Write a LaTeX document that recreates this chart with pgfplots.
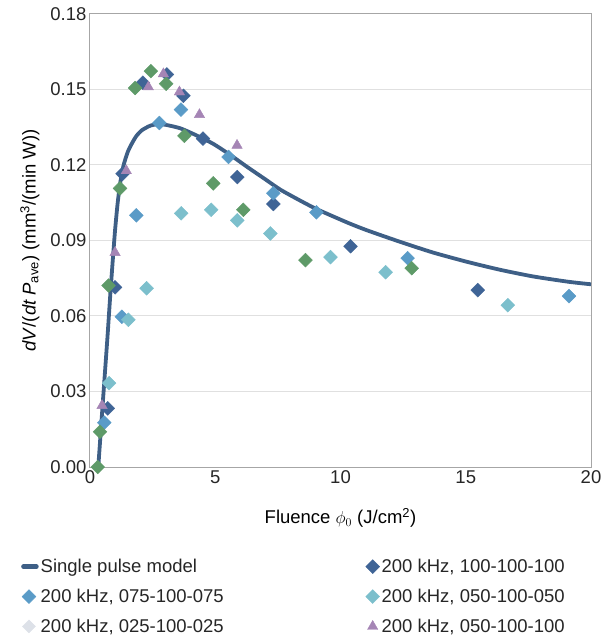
\documentclass[border=0pt]{standalone}
\usepackage{fontspec}
\setmainfont{Liberation Sans}
\usepackage{pgfplots}
\pgfplotsset{compat=1.18}
\definecolor{cmodel}{HTML}{3E5F86}
\definecolor{cdark}{HTML}{3F6496}
\definecolor{cmed}{HTML}{5A9BC7}
\definecolor{clight}{HTML}{7CBFCC}
\definecolor{cgreen}{HTML}{5E9A68}
\definecolor{cpink}{HTML}{A585B5}
\definecolor{cpale}{HTML}{DDE1E8}
\begin{document}
\begin{tikzpicture}[font=\fontsize{18.5}{22}\selectfont]
\useasboundingbox (-90pt,-177pt) rectangle (511pt,467pt);
\begin{axis}[
  scale only axis, width=501pt, height=453pt,
  at={(0,0)}, anchor=south west,
  xmin=0, xmax=20, ymin=0, ymax=0.18,
  xtick={0,5,10,15,20},
  ytick={0,0.03,0.06,0.09,0.12,0.15,0.18},
  yticklabel style={/pgf/number format/.cd, fixed, fixed zerofill, precision=2},
  /pgf/number format/assume math mode=true,
  tick style={draw=none},
  ticklabel style={text=black!85},
  axis line style={black!35, line width=1pt},
  ymajorgrids, grid style={black!12, line width=1pt},
  xlabel={Fluence $\phi_0$ (J/cm\textsuperscript{2})},
  ylabel={\textit{dV}/(\textit{dt P}\textsubscript{ave}) (mm\textsuperscript{3}/(min W))},
  xlabel style={at={([yshift=-51pt]rel axis cs:0.5,0)}, anchor=center},
  ylabel style={at={([xshift=-60pt]rel axis cs:0,0.5)}, anchor=center},
  legend columns=2,
  legend cell align=left,
  legend style={at={(rel axis cs:0,0)}, anchor=north west, xshift=-72pt, yshift=-88pt,
    draw=none, fill=none, row sep=11pt, text=black!85,
    /tikz/every even column/.append style={column sep=140pt}},
]
\addplot[cmodel, line width=3.8pt, smooth, tension=0.4,
  legend image code/.code={\draw[cmodel, line width=4.5pt, line cap=round] (3pt,0pt) -- (16pt,0pt);}]
coordinates {
(0.33,0) (0.5,0.024) (0.6,0.038) (0.7,0.052) (0.8,0.067) (0.9,0.081) (1.0,0.094)
(1.1,0.1045) (1.2,0.1125) (1.33,0.1195) (1.5,0.125) (1.67,0.1285) (1.85,0.1315)
(2.07,0.1338) (2.4,0.1356) (2.7,0.1362) (3.0,0.1360) (3.6,0.1346) (4.2,0.1320)
(4.92,0.1284) (5.6,0.1240) (6.28,0.1192) (7.0,0.1143) (7.6,0.1102) (8.4,0.1058)
(9.0,0.1027) (9.7,0.0996) (10.4,0.0966) (11.1,0.0939) (12.4,0.0894) (13.7,0.0852)
(15.1,0.0814) (16.4,0.0783) (17.7,0.0757) (19.1,0.0736) (20,0.0726)
};
\addlegendentry{Single pulse model}
\addplot[only marks, mark=square*, mark size=4.9pt, mark options={rotate=45, fill=cdark, draw=cdark}]
coordinates {
(0.71,0.0233) (1.0,0.0714) (1.3,0.1165) (2.11,0.1527) (3.07,0.156) (3.73,0.1475)
(4.51,0.1305) (5.88,0.1152) (7.32,0.1045) (10.4,0.0877) (15.48,0.0703)
};
\addlegendentry{200 kHz, 100-100-100}
\addplot[only marks, mark=square*, mark size=4.9pt, mark options={rotate=45, fill=cmed, draw=cmed}]
coordinates {
(0.57,0.0176) (1.27,0.0597) (1.85,0.100) (2.77,0.1367) (3.63,0.142) (5.53,0.1232)
(7.32,0.1088) (9.04,0.1012) (12.68,0.083) (19.12,0.0679)
};
\addlegendentry{200 kHz, 075-100-075}
\addplot[only marks, mark=square*, mark size=4.9pt, mark options={rotate=45, fill=clight, draw=clight}]
coordinates {
(0.76,0.0333) (1.53,0.0585) (2.26,0.071) (3.64,0.1008) (4.84,0.1022) (5.88,0.098)
(7.2,0.0928) (9.6,0.0834) (11.8,0.0774) (16.68,0.0643)
};
\addlegendentry{200 kHz, 050-100-050}
\addplot[only marks, mark=square*, mark size=4.9pt, mark options={rotate=45, fill=cgreen, draw=cgreen},
  legend image code/.code={\fill[cpale] (0.3cm,6.5pt) -- ++(6.5pt,-6.5pt) -- ++(-6.5pt,-6.5pt) -- ++(-6.5pt,6.5pt) -- cycle;}]
coordinates {
(0.31,0.0) (0.4,0.014) (0.74,0.0721) (1.2,0.1107) (1.8,0.1506) (2.43,0.1573)
(3.04,0.1523) (3.77,0.1316) (4.92,0.1127) (6.12,0.1022) (8.6,0.0822) (12.84,0.079)
};
\addlegendentry{200 kHz, 025-100-025}
\addplot[only marks, mark=triangle*, mark size=6pt, mark options={fill=cpink, draw=cpink}]
coordinates {
(0.48,0.0244) (1.0,0.0852) (1.45,0.1177) (2.33,0.151) (2.93,0.1562) (3.57,0.149)
(4.37,0.140) (5.87,0.1278)
};
\addlegendentry{200 kHz, 050-100-100}
\end{axis}
\end{tikzpicture}
\end{document}
